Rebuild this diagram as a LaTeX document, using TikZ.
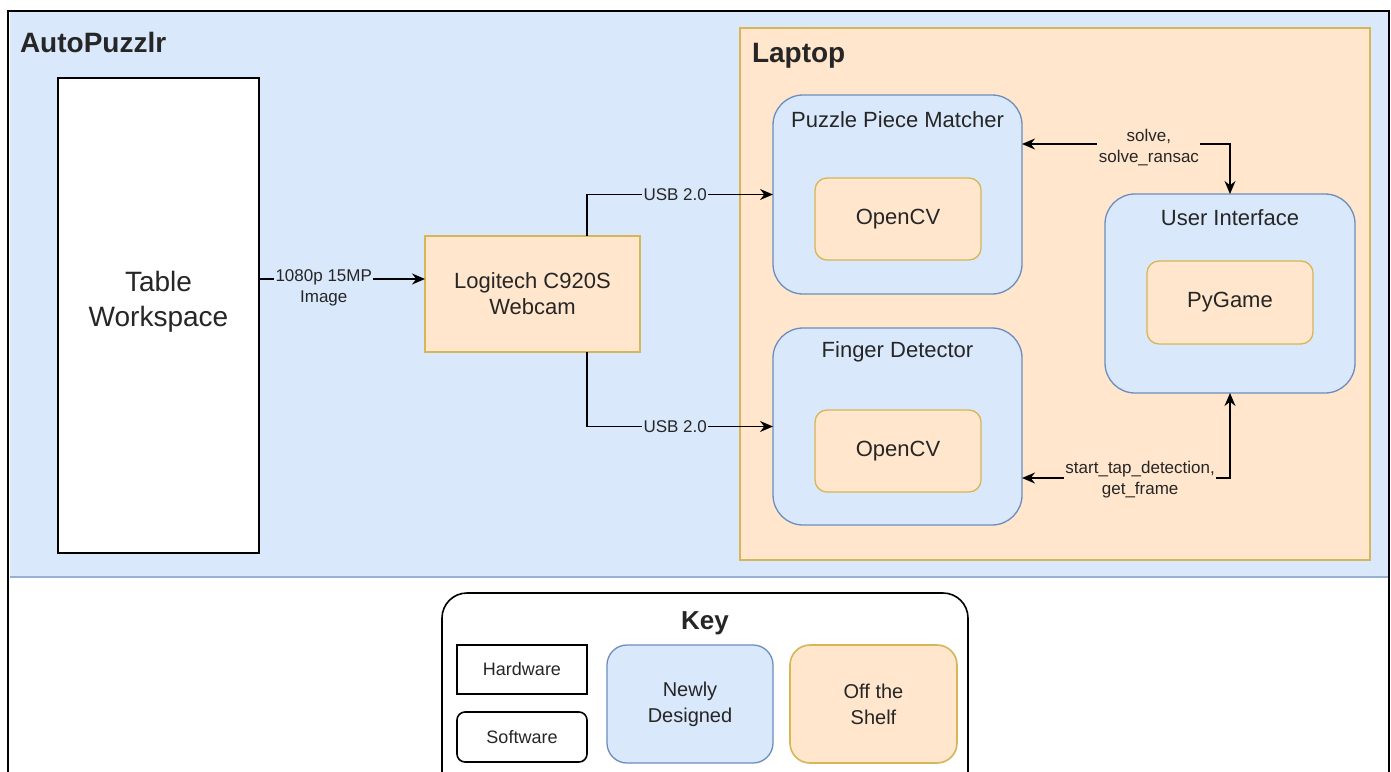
\documentclass[tikz,border=0pt]{standalone}
\usepackage{fontspec}
\setmainfont{Liberation Sans}
\usetikzlibrary{arrows.meta,calc}
\definecolor{bluefill}{HTML}{DAE8FC}
\definecolor{blueline}{HTML}{6C8EBF}
\definecolor{orgfill}{HTML}{FFE6CC}
\definecolor{orgline}{HTML}{D6B656}
\definecolor{txt}{HTML}{262626}
\newcommand{\fsz}[2]{\fontsize{#1}{#2}\selectfont}
\begin{document}
\begin{tikzpicture}[x=1pt,y=-1pt,
  every node/.style={text=txt, align=center, inner sep=0pt, outer sep=0pt},
  hwbox/.style={draw=black, line width=1.6pt, fill=white},
  newbox/.style={draw=blueline, fill=bluefill, line width=1.3pt},
  offbox/.style={draw=orgline, fill=orgfill, line width=1.3pt},
  title/.style={font=\bfseries\fsz{28}{32}},
  boxtext/.style={font=\fsz{22}{26}},
  lbl/.style={font=\fsz{17}{21}, inner sep=1.5pt},
  arr/.style={line width=1.5pt, -{Stealth[length=13pt,width=11pt]}},
  biarr/.style={line width=1.5pt, {Stealth[length=13pt,width=11pt]}-{Stealth[length=13pt,width=11pt]}}]
\useasboundingbox (0,0) rectangle (1391,771);
\clip (0,0) rectangle (1391,771);
\fill[white] (0,0) rectangle (1391,771);

% system region
\node[fill=bluefill, minimum width=1378pt, minimum height=565pt, anchor=north west] (sys) at (10,12) {};
\draw[line width=1.2pt, color=blueline!70] (sys.south west) -- (sys.south east);
\draw[line width=1.6pt] (8,800) |- (1389,11) -- (1389,800);
\node[title, anchor=west] (systitle) at (20,42) {AutoPuzzlr};

% laptop
\node[offbox, line width=1.6pt, minimum width=630pt, minimum height=532pt, anchor=north west] (lap) at (740,28) {};
\node[title, anchor=west] (laptitle) at (752,56) {Laptop};

% table workspace
\node[hwbox, minimum width=201pt, minimum height=475pt] (tw) at (158.5,315.5) {};
\node[font=\fsz{28}{35}] (twt) at (158.5,302) {Table\\Workspace};

% webcam
\node[offbox, line width=1.6pt, minimum width=215pt, minimum height=116pt, boxtext] (cam) at (532.5,294) {Logitech C920S\\Webcam};

% puzzle piece matcher
\node[newbox, rounded corners=30pt, minimum width=249pt, minimum height=199pt] (ppm) at (897.5,194.5) {};
\node[boxtext] (ppmt) at (897.5,120) {Puzzle Piece Matcher};
\node[offbox, rounded corners=12pt, minimum width=166pt, minimum height=82pt, boxtext] (cv1) at (898,219) {OpenCV};

% finger detector
\node[newbox, rounded corners=30pt, minimum width=249pt, minimum height=197pt] (fd) at (897.5,426.5) {};
\node[boxtext] (fdt) at (897.5,352) {Finger Detector};
\node[offbox, rounded corners=12pt, minimum width=166pt, minimum height=82pt, boxtext] (cv2) at (898,451) {OpenCV};

% user interface
\node[newbox, rounded corners=30pt, minimum width=250pt, minimum height=199pt] (ui) at (1230,293.5) {};
\node[boxtext] (uit) at (1230,218) {User Interface};
\node[offbox, rounded corners=12pt, minimum width=166pt, minimum height=83pt, boxtext] (pg) at (1230,302.5) {PyGame};

% connectors
\coordinate (c1) at ($(cam.west)+(0,-15)$);
\draw[arr] (tw.east |- c1) -- (c1)
  node[lbl, pos=0.39, yshift=-9pt, fill=bluefill] (l1) {1080p 15MP\\Image};

\coordinate (u0) at ($(cam.north)+(54.5,0)$);
\draw[arr] (u0) |- (ppm.west) node[lbl, pos=0.737, fill=bluefill] (l2) {USB 2.0};
\coordinate (u1) at ($(cam.south)+(54.5,0)$);
\draw[arr] (u1) |- (fd.west) node[lbl, pos=0.737, fill=bluefill] (l3) {USB 2.0};

\coordinate (s1) at ($(ppm.east)+(0,-50.5)$);
\draw[biarr] (s1) -| (ui.north) node[lbl, pos=0.305, yshift=-4pt, fill=orgfill] (l4) {solve,\\solve\_ransac};

\coordinate (t1) at ($(fd.east)+(0,51.5)$);
\draw[biarr] (t1) -| (ui.south) node[lbl, pos=0.284, yshift=-2pt, fill=orgfill] (l5) {start\_tap\_detection,\\get\_frame};

% key
\node[draw=black, line width=1.6pt, fill=white, rounded corners=25pt, minimum width=526pt, minimum height=210pt, anchor=north west] (key) at (442,593) {};
\node[font=\bfseries\fsz{26}{30}] (keyt) at (705,623) {Key};
\node[hwbox, minimum width=130pt, minimum height=49pt, font=\fsz{18}{21}] (khw) at (522,669.5) {Hardware};
\node[hwbox, rounded corners=8pt, minimum width=130pt, minimum height=50pt, font=\fsz{18}{21}] (ksw) at (522,737) {Software};
\node[newbox, rounded corners=20pt, minimum width=166pt, minimum height=118pt, font=\fsz{20}{26}] (knew) at (690,704) {Newly\\Designed};
\node[offbox, line width=1.6pt, rounded corners=20pt, minimum width=167pt, minimum height=118pt, font=\fsz{20}{26}] (koff) at (873.5,704) {Off the\\Shelf};
\end{tikzpicture}
\end{document}
